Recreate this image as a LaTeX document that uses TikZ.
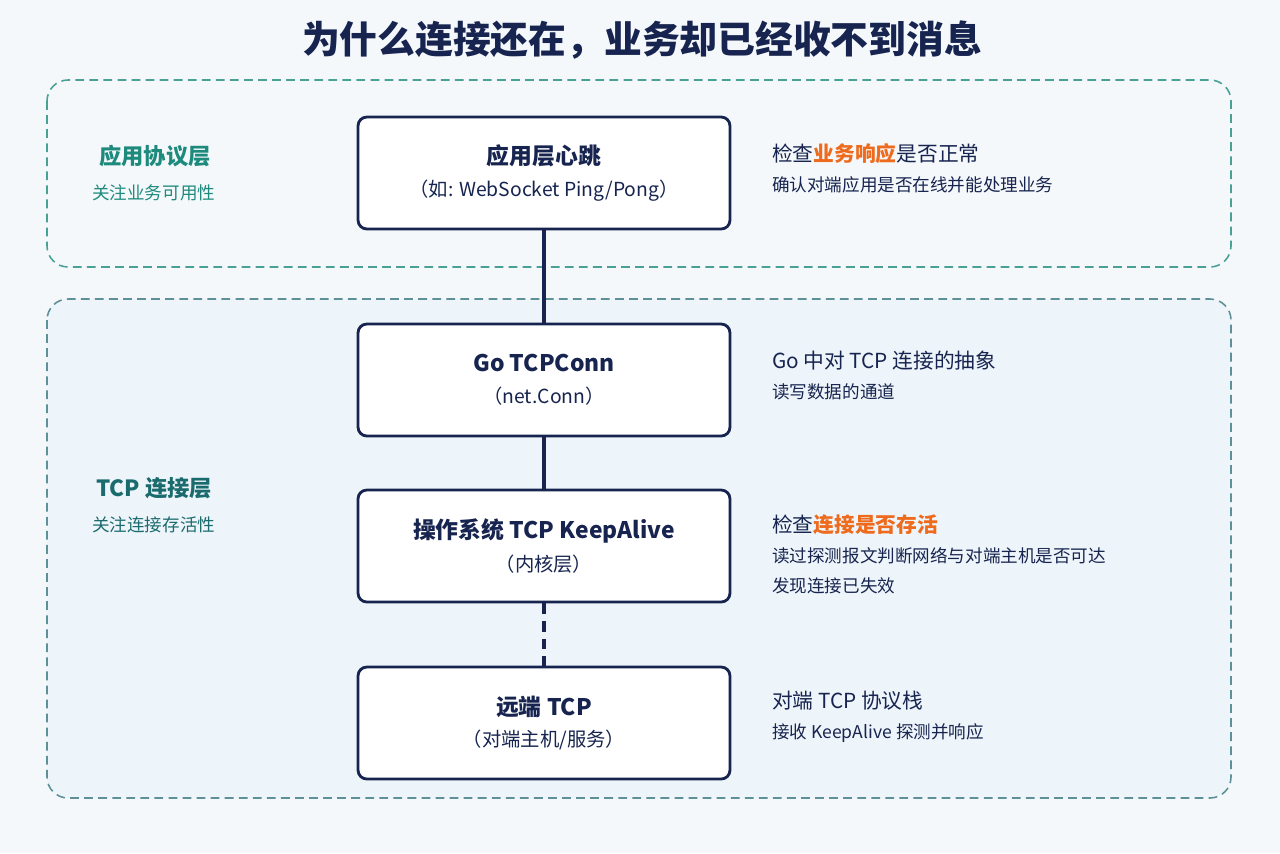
\documentclass[tikz,border=0pt]{standalone}
\usepackage{fontspec}
\setmainfont{Noto Sans CJK SC}
\usetikzlibrary{positioning}
\definecolor{navy}{HTML}{16244F}
\definecolor{teal}{HTML}{1C8A7C}
\definecolor{hot}{HTML}{EE6A1C}
\definecolor{bg}{HTML}{F5F8FB}
\definecolor{zone}{HTML}{EEF5FA}
\begin{document}
\begin{tikzpicture}[x=0.02cm,y=-0.02cm,
  layer box/.style={draw=navy, line width=1.6pt, rounded corners=5pt, fill=white, minimum width=7.44cm, minimum height=2.24cm, align=center, text=navy},
  zone/.style={dash pattern=on 5pt off 3pt, line width=0.9pt, rounded corners=12pt},
  note/.style={anchor=north west, align=left, text=navy, font=\fontsize{10}{17}\selectfont},
  link/.style={navy, line width=2.2pt}]
  \fill[bg] (0,0) rectangle (1280,853);
  \node[font=\fontsize{21.5}{24}\selectfont\bfseries, text=navy] (title) at (642,40) {为什么连接还在，业务却已经收不到消息};
  % zones
  \draw[zone, draw=teal!80, fill=bg] (47,80) rectangle (1231,267);
  \draw[zone, draw=teal!60!navy!70, fill=zone] (47,299) rectangle (1231,798);
  \node[anchor=west, text=teal, font=\fontsize{12.7}{15}\selectfont\bfseries] (app) at (93,156) {应用协议层};
  \node[anchor=west, text=teal, font=\fontsize{10}{12}\selectfont] (appsub) at (86,193) {关注业务可用性};
  \node[anchor=west, text=teal!70!navy, font=\fontsize{12.7}{15}\selectfont\bfseries] (tcp) at (90,488) {TCP 连接层};
  \node[anchor=west, text=teal!70!navy, font=\fontsize{10}{12}\selectfont] (tcpsub) at (86,525) {关注连接存活性};
  % layers
  \node[layer box] (beat) at (544,173) {{\fontsize{13}{17}\selectfont\bfseries 应用层心跳}\\[6pt]{\fontsize{11}{13}\selectfont （如: WebSocket Ping/Pong）}};
  \node[layer box] (conn) at (544,380) {{\fontsize{13}{17}\selectfont\bfseries Go TCPConn}\\[6pt]{\fontsize{11}{13}\selectfont （net.Conn）}};
  \node[layer box] (keep) at (544,546) {{\fontsize{13}{17}\selectfont\bfseries 操作系统 TCP KeepAlive}\\[6pt]{\fontsize{11}{13}\selectfont （内核层）}};
  \node[layer box] (peer) at (544,723) {{\fontsize{13}{17}\selectfont\bfseries 远端 TCP}\\[6pt]{\fontsize{11}{13}\selectfont （对端主机/服务）}};
  \draw[link] (beat) -- (conn);
  \draw[link] (conn) -- (keep);
  \draw[link, dash pattern=on 6pt off 4pt] (keep) -- (peer);
  % notes
  \node[note] (n1) at (766,137) {{\fontsize{11.8}{15}\selectfont 检查\textcolor{hot}{\bfseries 业务响应}是否正常}\\确认对端应用是否在线并能处理业务};
  \node[note] (n2) at (766,345) {{\fontsize{11.8}{15}\selectfont Go 中对 TCP 连接的抽象}\\读写数据的通道};
  \node[note] (n3) at (766,509) {{\fontsize{11.8}{15}\selectfont 检查\textcolor{hot}{\bfseries 连接是否存活}}\\读过探测报文判断网络与对端主机是否可达\\发现连接已失效};
  \node[note] (n4) at (766,685) {{\fontsize{11.8}{15}\selectfont 对端 TCP 协议栈}\\接收 KeepAlive 探测并响应};
\end{tikzpicture}
\end{document}
